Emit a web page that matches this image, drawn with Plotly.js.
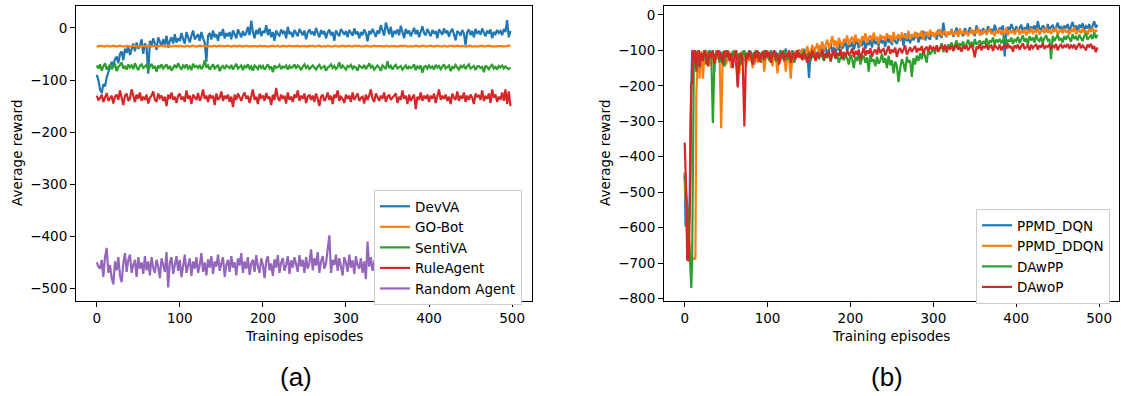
<!DOCTYPE html>
<html>
<head>
<meta charset="utf-8">
<script src="https://cdn.plot.ly/plotly-3.0.1.min.js"></script>
<style>html,body{margin:0;padding:0;background:#fff;}#chart{width:1121px;height:396px;}</style>
</head>
<body>
<div id="chart"></div>
<script>
// ---------- Panel (a) ----------
const namesA = ["DevVA", "GO-Bot", "SentiVA", "RuleAgent", "Random Agent"];
const colorsA = ["#1f77b4", "#ff7f0e", "#2ca02c", "#d62728", "#9467bd"];

const devVA = [
-90,-100,-118,-125,-108,-112,-95,-85,-78,-65,
-72,-60,-55,-68,-50,-45,-62,-40,-48,-35,
-52,-38,-30,-45,-28,-40,-35,-22,-50,-30,
-38,-88,-25,-35,-20,-30,-42,-18,-28,-35,
-22,-32,-15,-38,-25,-18,-30,-12,-28,-20,
-25,-10,-22,-30,-8,-18,-28,-15,-5,-22,
-18,-12,-25,-8,-20,-28,-65,-15,-10,-22,
-5,-18,-12,-25,-8,-15,-2,-20,-10,-16,
-8,-22,-5,-14,-20,-3,-12,-18,-6,-15,
-10,2,-14,14,-8,-20,-4,-12,0,-16,
-6,-10,5,-14,-2,-18,-8,-25,-5,-12,
-15,-3,-10,-6,-20,2,-12,-8,-18,-4,
-10,-16,-2,-8,-14,-5,-22,-9,-3,-12,
-7,-15,0,-10,-18,-4,-12,-6,-20,-9,
-3,-14,-8,-25,-5,-11,-16,-2,-9,-13,
-6,-18,-4,-10,-15,-1,-12,-7,-20,-8,
-14,-3,-10,-26,-6,-12,-2,-9,-17,-5,
-11,5,-8,-15,10,-4,-12,2,-18,-6,
-10,-3,-14,4,-7,-20,-2,-11,-5,-16,
-8,0,-12,-4,-18,-6,3,-10,-14,-2,
-9,-16,-4,-11,-6,-20,-3,-8,-13,-1,
-10,-5,-17,-7,-2,-12,-24,-6,-9,-15,
-4,-11,-33,-8,-3,-14,-6,-18,-2,-10,
-7,-13,-1,-9,-16,-5,-11,-3,-20,-8,
-12,-4,-10,-6,-14,-2,-8,15,-18,-6];

const goBot = [
-35,-36,-34,-35,-35,-36,-34,-35,-36,-35,
-34,-35,-36,-35,-34,-35,-35,-36,-34,-35,
-36,-35,-34,-35,-36,-35,-35,-34,-35,-36,
-35,-34,-35,-36,-35,-34,-36,-35,-35,-34,
-35,-36,-35,-34,-35,-36,-35,-35,-34,-36,
-34,-35,-35,-36,-34,-35,-36,-35,-34,-35,
-36,-35,-34,-35,-35,-34,-36,-35,-35,-36,
-35,-34,-36,-35,-34,-35,-35,-36,-35,-34,
-35,-36,-35,-34,-36,-35,-34,-35,-36,-35,
-34,-35,-36,-35,-35,-34,-35,-36,-34,-35,
-35,-34,-35,-36,-35,-35,-34,-36,-35,-34,
-36,-35,-35,-34,-36,-35,-34,-35,-35,-36,
-35,-34,-36,-35,-35,-34,-35,-36,-34,-35,
-34,-36,-35,-35,-34,-36,-35,-35,-36,-34,
-35,-35,-36,-34,-35,-35,-36,-35,-34,-35,
-36,-34,-35,-35,-36,-34,-35,-35,-34,-36,
-35,-36,-34,-35,-35,-36,-35,-34,-35,-35,
-34,-35,-35,-36,-34,-35,-36,-35,-35,-34,
-35,-36,-35,-34,-35,-35,-34,-36,-35,-35,
-36,-35,-34,-35,-36,-35,-35,-34,-36,-35,
-35,-34,-35,-36,-35,-34,-35,-35,-36,-34,
-35,-36,-35,-35,-34,-36,-35,-34,-35,-35,
-34,-35,-36,-35,-35,-34,-36,-35,-35,-36,
-35,-35,-34,-36,-35,-35,-34,-35,-36,-35,
-36,-35,-35,-34,-35,-36,-35,-35,-34,-35];

const sentiVA = [
-72,-78,-70,-82,-74,-68,-80,-76,-71,-79,
-74,-69,-83,-75,-72,-66,-78,-73,-80,-70,
-76,-72,-79,-68,-75,-81,-73,-70,-77,-74,
-71,-80,-75,-69,-78,-73,-84,-72,-76,-70,
-78,-74,-70,-79,-73,-82,-75,-71,-77,-68,
-75,-80,-72,-76,-70,-78,-74,-81,-69,-75,
-73,-77,-71,-79,-74,-62,-76,-72,-80,-75,
-70,-78,-74,-71,-83,-76,-73,-79,-72,-75,
-77,-71,-80,-74,-69,-78,-75,-72,-81,-73,
-76,-70,-78,-74,-82,-72,-75,-79,-71,-77,
-73,-80,-75,-70,-78,-74,-85,-72,-77,-75,
-71,-79,-74,-76,-72,-80,-73,-77,-75,-70,
-78,-72,-75,-81,-74,-70,-77,-73,-79,-75,
-72,-76,-80,-74,-71,-78,-75,-73,-82,-76,
-74,-70,-77,-73,-79,-75,-66,-78,-72,-76,
-80,-73,-75,-71,-78,-74,-76,-82,-72,-75,
-77,-71,-79,-74,-68,-76,-73,-80,-75,-72,
-76,-82,-72,-75,-79,-64,-77,-73,-80,-74,
-71,-78,-75,-73,-80,-76,-72,-79,-74,-77,
-75,-70,-81,-74,-77,-72,-86,-75,-73,-78,
-72,-77,-74,-80,-71,-76,-73,-79,-75,-70,
-78,-74,-72,-83,-75,-77,-71,-76,-80,-73,
-76,-72,-79,-74,-70,-78,-75,-73,-81,-74,
-73,-77,-75,-85,-72,-76,-79,-74,-71,-78,
-75,-80,-73,-76,-72,-78,-74,-77,-79,-76];

const ruleAgent = [
-130,-138,-135,-128,-142,-132,-125,-140,-136,-130,
-145,-132,-128,-138,-120,-134,-148,-130,-126,-140,
-135,-118,-132,-142,-128,-136,-124,-140,-132,-138,
-128,-145,-134,-130,-122,-138,-142,-126,-134,-130,
-140,-132,-150,-128,-136,-124,-138,-132,-144,-130,
-126,-138,-132,-142,-120,-136,-130,-146,-128,-134,
-138,-125,-140,-132,-118,-136,-130,-142,-128,-135,
-130,-148,-126,-138,-134,-122,-140,-130,-136,-128,
-142,-132,-152,-128,-138,-126,-135,-140,-130,-124,
-136,-130,-144,-128,-118,-138,-132,-146,-126,-134,
-130,-140,-125,-136,-132,-148,-128,-138,-115,-134,
-140,-128,-136,-130,-145,-124,-138,-132,-142,-128,
-134,-120,-140,-130,-136,-126,-144,-132,-128,-138,
-130,-142,-126,-136,-150,-132,-128,-140,-134,-124,
-138,-130,-146,-128,-134,-120,-140,-132,-136,-144,
-128,-136,-130,-142,-124,-138,-132,-126,-140,-134,
-132,-145,-128,-138,-130,-118,-136,-142,-126,-134,
-140,-130,-136,-124,-142,-132,-128,-138,-134,-130,
-126,-144,-132,-138,-120,-136,-130,-146,-128,-140,
-134,-128,-156,-132,-138,-124,-140,-130,-136,-128,
-142,-130,-136,-126,-144,-132,-118,-138,-130,-136,
-128,-140,-132,-146,-126,-134,-138,-122,-140,-130,
-136,-124,-142,-130,-138,-128,-134,-146,-126,-132,
-130,-138,-120,-140,-132,-136,-126,-144,-118,-134,
-128,-142,-132,-138,-124,-140,-118,-146,-122,-150];

const randomAgent = [
-450,-458,-462,-445,-478,-440,-422,-470,-455,-480,
-492,-448,-465,-440,-475,-488,-452,-432,-468,-445,
-435,-470,-455,-445,-478,-440,-462,-450,-472,-438,
-465,-448,-475,-440,-460,-470,-445,-458,-480,-442,
-455,-468,-430,-498,-450,-440,-472,-455,-438,-466,
-445,-478,-452,-435,-470,-458,-442,-476,-448,-462,
-440,-470,-455,-432,-468,-450,-475,-444,-460,-438,
-472,-448,-458,-435,-466,-452,-440,-478,-455,-445,
-468,-438,-460,-450,-475,-442,-456,-432,-470,-448,
-462,-440,-474,-452,-445,-468,-436,-458,-470,-442,
-455,-480,-448,-438,-465,-452,-476,-444,-460,-436,
-470,-450,-442,-466,-455,-438,-472,-446,-460,-440,
-452,-468,-436,-458,-445,-470,-440,-462,-450,-425,
-465,-442,-456,-430,-470,-448,-438,-462,-452,-420,
-398,-470,-445,-455,-435,-466,-442,-458,-475,-440,
-450,-468,-435,-460,-446,-472,-438,-455,-462,-442,
-470,-448,-482,-410,-458,-440,-466,-450,-436,-460,
-445,-470,-455,-438,-462,-450,-476,-442,-458,-436,
-465,-448,-456,-440,-470,-452,-438,-462,-446,-458,
-440,-468,-452,-436,-460,-474,-445,-455,-438,-466,
-450,-462,-442,-470,-448,-458,-436,-464,-452,-445,
-468,-440,-456,-474,-446,-438,-460,-452,-470,-444,
-455,-438,-466,-448,-460,-442,-472,-450,-436,-462,
-446,-470,-452,-440,-464,-456,-438,-468,-448,-458,
-442,-460,-450,-472,-438,-456,-466,-444,-462,-450];

// ---------- Panel (b) ----------
const namesB = ["PPMD_DQN", "PPMD_DDQN", "DAwPP", "DAwoP"];
const colorsB = ["#1f77b4", "#ff7f0e", "#2ca02c", "#d62728"];

const ppmdDQN = [
-445,-597,-540,-590,-610,-600,-520,-300,-120,-100,-110,-125,-100,-140,-105,-118,-130,-100,-108,-125,
-105,-118,-100,-135,-112,-100,-125,-108,-140,-102,
-115,-100,-130,-110,-145,-100,-120,-105,-125,-110,
-100,-135,-200,-110,-120,-102,-130,-108,-115,-100,
-125,-110,-140,-100,-118,-105,-130,-112,-100,-122,
-108,-130,-100,-115,-125,-104,-140,-110,-100,-120,
-112,-95,-128,-106,-118,-100,-135,-108,-115,-98,
-120,-105,-96,-125,-110,-178,-100,-115,-92,-108,
-120,-98,-86,-112,-100,-90,-118,-95,-80,-105,
-92,-110,-85,-100,-78,-95,-88,-72,-102,-84,
-90,-76,-98,-82,-70,-94,-80,-88,-65,-96,
-78,-85,-70,-92,-60,-82,-75,-88,-66,-80,
-72,-90,-58,-78,-68,-85,-55,-75,-82,-64,
-70,-60,-88,-52,-74,-66,-80,-58,-72,-62,
-50,-78,-60,-68,-45,-72,-56,-64,-70,-48,
-60,-52,-70,-42,-58,-65,-22,-55,-62,-48,
-56,-40,-62,-50,-36,-58,-45,-52,-60,-38,
-48,-55,-35,-52,-44,-60,-30,-50,-42,-56,
-38,-48,-54,-32,-46,-40,-52,-28,-44,-50,
-36,-42,-30,-117,-48,-34,-44,-26,-40,-50,
-32,-45,-38,-28,-48,-35,-42,-24,-46,-33,
-40,-30,-46,-18,-38,-44,-30,-36,-48,-26,
-42,-34,-28,-45,-36,-22,-40,-32,-46,-30,
-38,-26,-44,-34,-20,-40,-30,-46,-28,-36,
-24,-42,-32,-38,-26,-44,-30,-18,-36,-28];

const ppmdDDQN = [
-445,-505,-580,-630,-600,-640,-670,-690,-685,-690,-688,-686,-690,-685,-230,-160,-100,-120,-180,-105,
-105,-180,-110,-100,-128,-145,-102,-118,-160,-100,
-125,-108,-320,-112,-100,-140,-118,-104,-150,-110,
-100,-130,-115,-165,-105,-122,-100,-145,-112,-130,
-105,-150,-118,-100,-135,-110,-125,-102,-160,-115,
-100,-130,-112,-145,-105,-120,-165,-108,-128,-100,
-118,-160,-105,-125,-180,-110,-132,-100,-120,-98,
-115,-95,-125,-105,-88,-118,-100,-85,-110,-96,
-80,-105,-92,-75,-100,-86,-70,-95,-82,-60,
-88,-72,-96,-65,-80,-90,-68,-78,-58,-85,
-70,-62,-82,-55,-76,-68,-88,-60,-72,-52,
-80,-64,-58,-75,-50,-70,-62,-82,-56,-68,
-60,-74,-52,-66,-58,-78,-48,-70,-62,-55,
-72,-50,-64,-58,-68,-45,-70,-55,-62,-48,
-66,-52,-60,-44,-70,-54,-48,-62,-42,-58,
-50,-64,-46,-56,-40,-60,-52,-44,-62,-48,
-55,-42,-58,-50,-46,-62,-38,-54,-48,-56,
-44,-60,-50,-40,-56,-46,-52,-36,-58,-48,
-52,-42,-56,-46,-38,-54,-48,-60,-44,-50,
-40,-56,-46,-52,-36,-58,-44,-50,-42,-55,
-48,-38,-56,-44,-52,-40,-58,-46,-50,-36,
-54,-44,-48,-38,-56,-46,-42,-52,-35,-50,
-44,-54,-40,-48,-36,-56,-46,-42,-52,-38,
-50,-44,-56,-40,-48,-34,-54,-46,-42,-52,
-38,-50,-44,-56,-40,-48,-36,-52,-44,-46];

const daWPP = [
-455,-470,-512,-530,-560,-620,-690,-740,-770,-690,-400,-150,-100,-130,-105,-145,-100,-120,-150,-110,
-110,-125,-100,-140,-105,-118,-102,-305,-120,-108,
-100,-135,-112,-104,-145,-100,-120,-110,-130,-102,
-115,-100,-125,-108,-140,-112,-100,-128,-106,-118,
-102,-130,-110,-100,-122,-108,-135,-104,-116,-100,
-112,-126,-104,-118,-100,-132,-110,-120,-106,-124,
-100,-115,-128,-108,-120,-104,-135,-112,-118,-106,
-122,-110,-100,-126,-114,-105,-130,-112,-120,-108,
-116,-125,-106,-118,-130,-110,-122,-104,-128,-115,
-108,-124,-112,-135,-118,-106,-128,-115,-122,-140,
-112,-125,-150,-118,-130,-108,-140,-122,-115,-135,
-120,-160,-112,-132,-125,-145,-118,-138,-128,-110,
-135,-122,-150,-115,-142,-128,-165,-132,-145,-190,
-150,-125,-138,-160,-118,-135,-128,-175,-122,-140,
-115,-130,-108,-125,-100,-118,-135,-95,-112,-104,
-92,-110,-86,-100,-95,-80,-105,-88,-98,-84,
-90,-78,-96,-85,-72,-92,-80,-88,-75,-94,
-82,-70,-88,-76,-92,-68,-84,-78,-72,-86,
-74,-82,-66,-90,-72,-78,-64,-84,-70,-76,
-68,-80,-72,-62,-86,-70,-76,-64,-82,-70,
-74,-62,-80,-68,-58,-76,-66,-84,-60,-72,
-64,-78,-56,-70,-74,-62,-80,-66,-58,-72,
-68,-125,-60,-74,-64,-56,-72,-66,-78,-60,
-70,-58,-66,-76,-54,-68,-62,-72,-56,-64,
-74,-60,-52,-70,-64,-58,-68,-50,-66,-56];

const daWoP = [
-360,-445,-505,-690,-692,-688,-600,-450,-190,-195,-100,-135,-110,-100,-160,-108,-125,-100,-145,-112,
-108,-130,-100,-115,-145,-105,-120,-100,-138,-112,
-100,-125,-108,-140,-102,-118,-100,-130,-110,-150,
-115,-100,-205,-120,-108,-135,-315,-110,-125,-102,
-118,-140,-105,-122,-100,-132,-112,-108,-128,-100,
-120,-105,-135,-112,-100,-126,-108,-140,-115,-104,
-130,-110,-118,-100,-136,-114,-106,-125,-100,-120,
-112,-128,-104,-118,-135,-108,-122,-100,-115,-130,
-106,-120,-112,-98,-126,-108,-118,-102,-132,-110,
-100,-122,-108,-115,-96,-125,-105,-118,-100,-112,
-108,-95,-120,-102,-112,-98,-125,-106,-92,-115,
-100,-110,-94,-118,-104,-98,-112,-90,-108,-100,
-96,-114,-102,-88,-110,-98,-106,-92,-118,-100,
-94,-108,-98,-86,-112,-100,-92,-104,-96,-88,
-106,-94,-100,-88,-110,-96,-90,-102,-86,-98,
-92,-100,-86,-104,-94,-88,-98,-84,-106,-90,
-96,-86,-102,-92,-84,-98,-90,-104,-88,-94,
-86,-100,-92,-84,-98,-120,-90,-96,-82,-100,
-88,-94,-82,-98,-90,-86,-102,-84,-92,-96,
-84,-100,-90,-86,-96,-82,-94,-88,-104,-86,
-92,-84,-98,-88,-80,-96,-90,-86,-100,-84,
-94,-88,-82,-98,-86,-92,-80,-96,-88,-90,
-84,-98,-86,-92,-82,-100,-88,-84,-94,-86,
-90,-82,-96,-86,-92,-84,-98,-88,-80,-94,
-86,-92,-100,-84,-90,-82,-96,-88,-105,-92];

const xTicks = [0, 100, 200, 300, 400, 500];
const yTicksA = [-500, -400, -300, -200, -100, 0];
const yTicksB = [-800, -700, -600, -500, -400, -300, -200, -100, 0];

// episode grids (x positions of the logged points)
const epsA = [];
for (let e = 0; e < 500; e += 2) epsA.push(e);
const epsB = [];
for (let e = 0; e < 20; e++) epsB.push(e);
for (let e = 20; e < 500; e += 2) epsB.push(e);

const seriesA = [devVA, goBot, sentiVA, ruleAgent, randomAgent];
const seriesB = [ppmdDQN, ppmdDDQN, daWPP, daWoP];

const traces = [];
seriesA.forEach((ys, i) => traces.push({
  x: epsA.slice(0, ys.length), y: ys, type: 'scatter', mode: 'lines',
  name: namesA[i], line: {color: colorsA[i], width: 2.2},
  xaxis: 'x', yaxis: 'y', legend: 'legend'
}));
seriesB.forEach((ys, i) => traces.push({
  x: epsB.slice(0, ys.length), y: ys, type: 'scatter', mode: 'lines',
  name: namesB[i], line: {color: colorsB[i], width: 2.2},
  xaxis: 'x2', yaxis: 'y2', legend: 'legend2'
}));

const W = 1121, H = 396;
const FONT = 'DejaVu Sans, sans-serif';
const fs = 13.5;
function px(x) { return x / W; }
function py(y) { return (H - y) / H; }

const axisCommon = {
  showgrid: false, zeroline: false, showline: true, mirror: true,
  linecolor: '#000', linewidth: 1, ticks: 'outside', ticklen: 5, tickwidth: 1,
  tickcolor: '#000', tickfont: {family: FONT, size: fs, color: '#000'}
};

const legendCommon = {
  bgcolor: '#ffffff', bordercolor: '#cccccc', borderwidth: 1,
  font: {family: FONT, size: fs, color: '#000'},
  xanchor: 'left', yanchor: 'top', tracegroupgap: 0, itemwidth: 30
};

const layout = {
  width: W, height: H,
  margin: {l: 0, r: 0, t: 0, b: 0},
  paper_bgcolor: '#fff', plot_bgcolor: '#fff',
  showlegend: true,
  xaxis: Object.assign({}, axisCommon, {domain: [px(76), px(532)], range: [-24.95, 523.95], tickvals: xTicks, anchor: 'y'}),
  yaxis: Object.assign({}, axisCommon, {domain: [py(301), py(6)], range: [-524, 42], tickvals: yTicksA, anchor: 'x'}),
  xaxis2: Object.assign({}, axisCommon, {domain: [px(664), px(1119)], range: [-24.95, 523.95], tickvals: xTicks, anchor: 'y2'}),
  yaxis2: Object.assign({}, axisCommon, {domain: [py(301), py(6)], range: [-807, 25], tickvals: yTicksB, anchor: 'x2'}),
  legend: Object.assign({}, legendCommon, {x: px(374), y: py(190)}),
  legend2: Object.assign({}, legendCommon, {x: px(976), y: py(209)}),
  annotations: [
    {text: 'Training episodes', xref: 'paper', yref: 'paper', x: px(304), y: py(336), showarrow: false, xanchor: 'center', yanchor: 'middle', font: {family: FONT, size: fs, color: '#000'}},
    {text: 'Training episodes', xref: 'paper', yref: 'paper', x: px(891), y: py(336), showarrow: false, xanchor: 'center', yanchor: 'middle', font: {family: FONT, size: fs, color: '#000'}},
    {text: 'Average reward', xref: 'paper', yref: 'paper', x: px(17), y: py(153), showarrow: false, textangle: -90, xanchor: 'center', yanchor: 'middle', font: {family: FONT, size: fs, color: '#000'}},
    {text: 'Average reward', xref: 'paper', yref: 'paper', x: px(605), y: py(153), showarrow: false, textangle: -90, xanchor: 'center', yanchor: 'middle', font: {family: FONT, size: fs, color: '#000'}},
    {text: '(a)', xref: 'paper', yref: 'paper', x: px(296), y: py(377), showarrow: false, xanchor: 'center', yanchor: 'middle', font: {family: 'Liberation Sans, Arial, sans-serif', size: 26, color: '#000'}},
    {text: '(b)', xref: 'paper', yref: 'paper', x: px(887), y: py(377), showarrow: false, xanchor: 'center', yanchor: 'middle', font: {family: 'Liberation Sans, Arial, sans-serif', size: 26, color: '#000'}}
  ]
};

Plotly.newPlot('chart', traces, layout, {staticPlot: true, displayModeBar: false});
</script>
</body>
</html>
